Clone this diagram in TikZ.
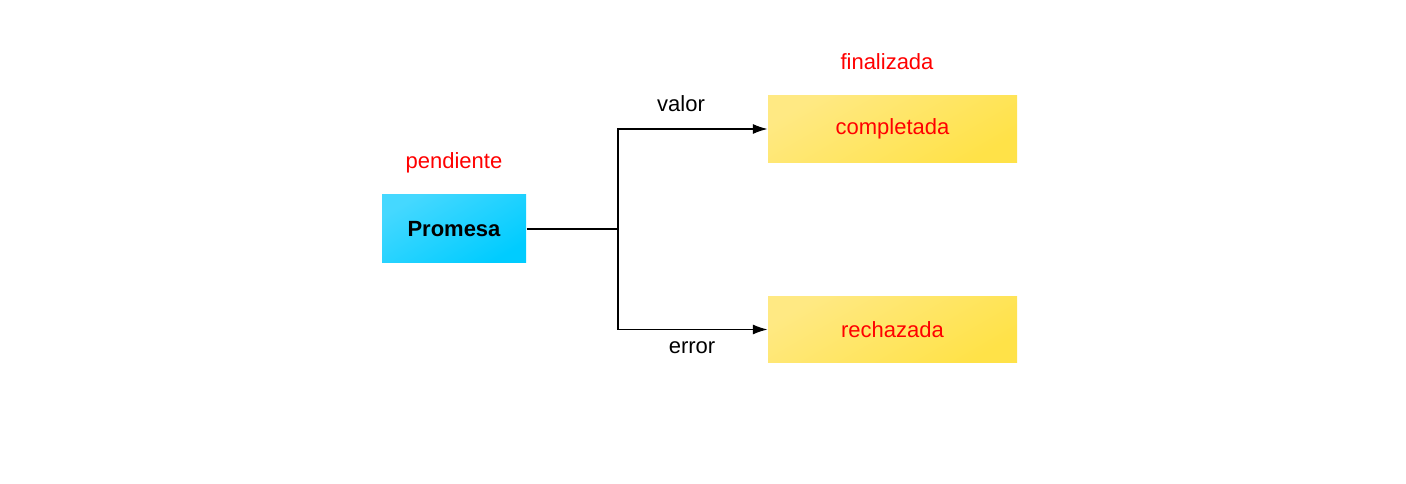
\documentclass[tikz,border=0pt]{standalone}
\usepackage{fontspec}
\setmainfont{Liberation Sans}
\usetikzlibrary{arrows,arrows.meta,positioning}

\definecolor{cyanlight}{HTML}{45D8FF}
\definecolor{cyandark}{HTML}{00CCFF}
\definecolor{yellowlight}{HTML}{FFE983}
\definecolor{yellowdark}{HTML}{FFE248}
\definecolor{redtext}{HTML}{FF0000}

\begin{document}
\begin{tikzpicture}[x=0.75pt,y=-0.75pt,thick,>={Latex[length=11pt,width=7.5pt]},font=\fontsize{16.5}{19}\selectfont]
    \tikzstyle{promise}=[rectangle, minimum width=108pt, minimum height=51pt, inner sep=0pt,
        top color=cyanlight, bottom color=cyandark, shading angle=30, font=\fontsize{16.5}{19}\selectfont\bfseries]
    \tikzstyle{result}=[rectangle, minimum width=186.75pt, minimum height=50pt, inner sep=0pt,
        top color=yellowlight, bottom color=yellowdark, shading angle=30, text=redtext]
    \tikzstyle{state}=[text=redtext, inner sep=0pt]
    \tikzstyle{label}=[inner sep=0pt]

    \useasboundingbox (0,0) rectangle (1406,484);

    \node[promise]    (promesa)    at (454,229)   {Promesa};
    \node[result]     (completada) at (892.5,129) {completada};
    \node[result]     (rechazada)  at (892.5,329.5) {rechazada};

    \node[state]      (pendiente)  at (454,163)   {pendiente};
    \node[state]      (finalizada) at (887,62)    {finalizada};

    \coordinate (split) at (618,229);

    \draw (promesa.east) -- (split);
    \draw[->] (split) |- (completada.west);
    \draw[->] (split) |- (rechazada.west);

    \node[label]      (valor) at (681,104) {valor};
    \node[label]      (error) at (692,348) {error};

  \end{tikzpicture}
\end{document}
